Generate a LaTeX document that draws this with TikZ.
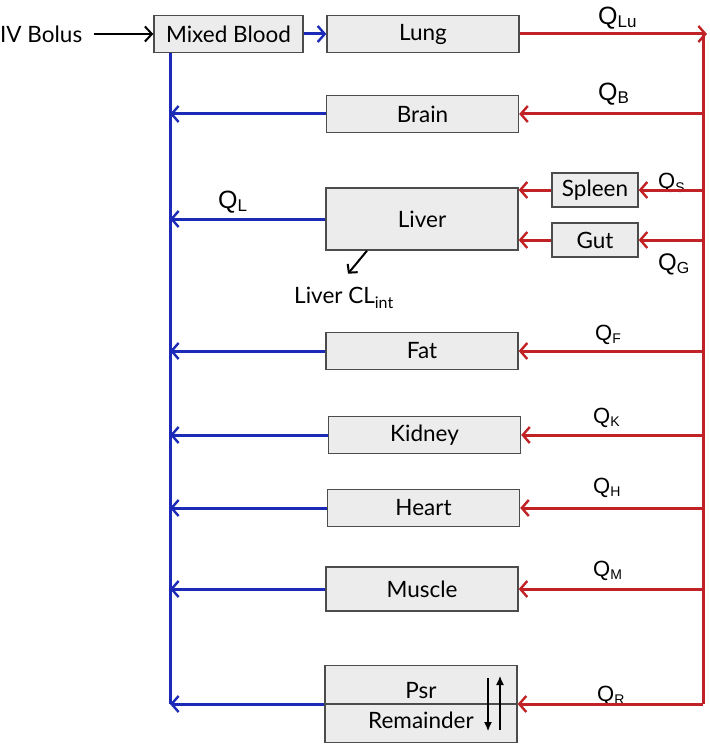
\documentclass[tikz,border=0pt]{standalone}
\usepackage{fontspec}
\setmainfont{Lato}
\newfontfamily\qfont{Liberation Sans}
\usetikzlibrary{arrows.meta}
\definecolor{flowblue}{RGB}{28,42,184}
\definecolor{flowred}{RGB}{192,34,38}
\definecolor{boxgray}{RGB}{236,236,236}
\newcommand{\flow}[3]{{\qfont\fontsize{#1}{#1}\selectfont Q\raisebox{-3pt}{\fontsize{#2}{#2}\selectfont #3}}}

\begin{document}
\begin{tikzpicture}[x=1pt, y=-1pt,
    organ/.style={draw=black!70, line width=1.4pt, fill=boxgray, minimum width=192pt, minimum height=37pt, inner sep=0pt, font=\fontsize{22.5}{25}\selectfont},
    small organ/.style={organ, minimum width=86pt, minimum height=34pt},
    label text/.style={inner sep=0pt, font=\fontsize{22.5}{25}\selectfont},
    flow label/.style={anchor=base west, inner sep=0pt},
    venous/.style={flowblue, line width=3pt, -{Straight Barb[length=7pt, width=16pt, line width=2.4pt]}},
    venous line/.style={flowblue, line width=3pt},
    arterial/.style={flowred, line width=3pt, -{Straight Barb[length=7pt, width=16pt, line width=2.4pt]}},
    dose/.style={black, line width=2pt, -{Straight Barb[length=7pt, width=15pt, line width=2pt]}}]

    \useasboundingbox (0,0) rectangle (709,746);

    \coordinate (bv) at (170,0);
    \coordinate (rv) at (703,0);

    \node[organ, minimum width=149pt] (mb) at (228.5,34) {Mixed Blood};
    \node[organ] (lu) at (423,34) {Lung};
    \node[organ] (br) at (422.5,114) {Brain};
    \node[organ, minimum height=62pt] (li) at (422,219) {Liver};
    \node[small organ] (sp) at (595,190) {Spleen};
    \node[small organ] (gu) at (595,240) {Gut};
    \node[organ] (fa) at (422,351) {Fat};
    \node[organ] (ki) at (424.5,435) {Kidney};
    \node[organ] (he) at (423.5,508) {Heart};
    \node[organ, minimum height=44pt] (mu) at (422,589) {Muscle};
    \node[organ, minimum height=77pt] (re) at (421,704) {};
    \node[label text] (psr) at (421,691) {Psr};
    \node[label text] (rem) at (421,720) {Remainder};
    \node[label text, anchor=west] (iv) at (0,34) {IV Bolus};
    \node[label text] (cl) at (344,298) {Liver CL\textsubscript{\fontsize{16}{16}\selectfont int}};

    \node[flow label] (qlu) at (598,25) {\flow{25}{17}{Lu}};
    \node[flow label] (qb) at (598,101) {\flow{25}{17}{B}};
    \node[flow label] (ql) at (218,208) {\flow{25}{17}{L}};
    \node[flow label] (qs) at (658,189) {\flow{22}{14}{S}};
    \node[flow label] (qg) at (658,270) {\flow{24}{16}{G}};
    \node[flow label] (qf) at (595,340) {\flow{22}{14}{F}};
    \node[flow label] (qk) at (593,423) {\flow{22}{14}{K}};
    \node[flow label] (qh) at (593,493) {\flow{22}{14}{H}};
    \node[flow label] (qm) at (593,576) {\flow{22}{14}{M}};
    \node[flow label] (qr) at (597,701) {\flow{22}{14}{R}};

    \draw [dose, shorten <=12pt] (iv.east) to (iv.east -| mb.west);
    \draw [venous] (mb.east) to (lu.west);
    \draw [arterial, shorten >=-4pt] (lu.east) to (lu.east -| rv);

    \draw [flowred, line width=3pt] (lu.east -| rv) to (re.east -| rv);
    \draw [arterial] (re.east -| rv) to (re.east);
    \draw [arterial] (br.east -| rv) to (br.east);
    \draw [arterial] (sp.east -| rv) to (sp.east);
    \draw [arterial] (gu.east -| rv) to (gu.east);
    \draw [arterial] (fa.east -| rv) to (fa.east);
    \draw [arterial] (ki.east -| rv) to (ki.east);
    \draw [arterial] (he.east -| rv) to (he.east);
    \draw [arterial] (mu.east -| rv) to (mu.east);
    \draw [arterial] (sp.west) to (sp.west -| li.east);
    \draw [arterial] (gu.west) to (gu.west -| li.east);

    \draw [venous line] (mb.south -| bv) to (re.west -| bv);
    \draw [venous] (br.west) to (br.west -| bv);
    \draw [venous] (li.west) to (li.west -| bv);
    \draw [venous] (fa.west) to (fa.west -| bv);
    \draw [venous] (ki.west) to (ki.west -| bv);
    \draw [venous] (he.west) to (he.west -| bv);
    \draw [venous] (mu.west) to (mu.west -| bv);
    \draw [venous] (re.west) to (re.west -| bv);

    \draw [black!70, line width=1.4pt] (re.west) to (re.east);
    \draw [black, line width=1.2pt, -{Latex[length=9pt, width=8pt]}] (488,678) to (488,731);
    \draw [black, line width=1.2pt, -{Latex[length=9pt, width=8pt]}] (500,730) to (500,676);
    \draw [black, line width=2pt, -{Straight Barb[length=6pt, width=13pt, line width=2pt]}] ([xshift=-55pt]li.south) to ++(-19,23);

\end{tikzpicture}
\end{document}
